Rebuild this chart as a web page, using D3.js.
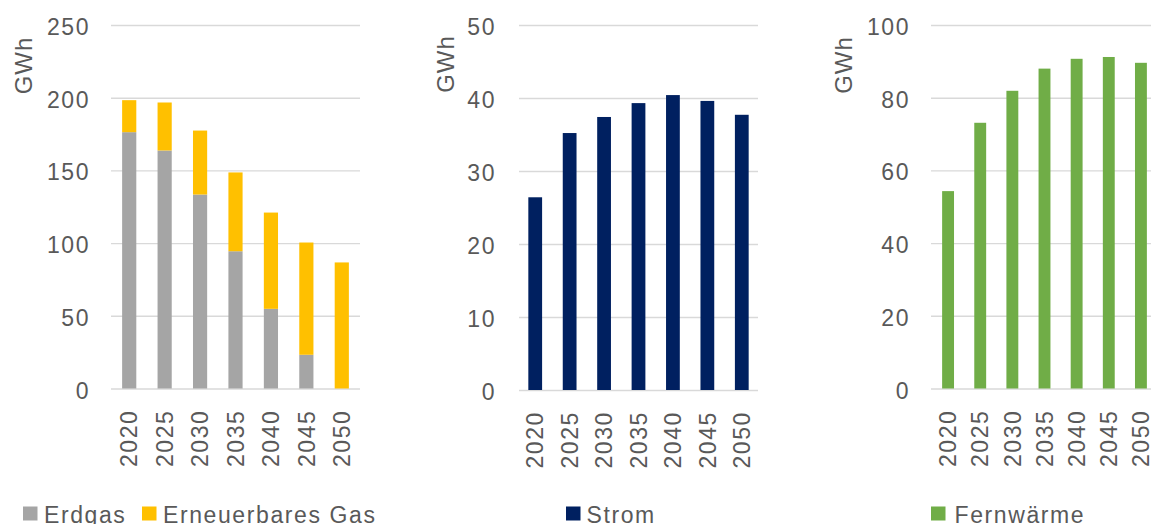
<!DOCTYPE html>
<html>
<head>
<meta charset="utf-8">
<script src="https://cdn.jsdelivr.net/npm/d3@7/dist/d3.min.js"></script>
<style>
  html, body { margin: 0; padding: 0; background: #ffffff; }
  svg { display: block; }
  text { font-family: "Liberation Sans", Arial, sans-serif; fill: #595959; }
</style>
</head>
<body>
<svg id="chart" width="1151" height="524"></svg>
<script>
// ---- data ----
const years = ["2020", "2025", "2030", "2035", "2040", "2045", "2050"];
const erdgas = [176.3, 163.7, 133.4, 94.4, 54.8, 23.2, 0];
const erneuerbaresGas = [22.0, 33.0, 44.0, 54.2, 66.2, 77.2, 86.7];
const strom = [26.4, 35.2, 37.4, 39.3, 40.4, 39.6, 37.7];
const fernwaerme = [54.3, 73.1, 81.9, 88.0, 90.7, 91.2, 89.6];
const ticksGas = [0, 50, 100, 150, 200, 250];
const ticksStrom = [0, 10, 20, 30, 40, 50];
const ticksFern = [0, 20, 40, 60, 80, 100];
const unitLabel = "GWh";

const colors = {
  Erdgas: "#a5a5a5",
  "Erneuerbares Gas": "#ffc000",
  Strom: "#002060",
  "Fernwärme": "#70ad47"
};

const svg = d3.select("#chart");
const FS = 23, LS = 1.6;

function panel(cfg) {
  const g = svg.append("g");
  const y = d3.scaleLinear().domain([0, cfg.max]).range([cfg.y0, cfg.y1]);
  const x = d3.scaleBand().domain(years).range([cfg.x0, cfg.x1])
    .paddingInner(cfg.pad).paddingOuter(cfg.pad / 2);

  // y axis with gridlines
  const ya = g.append("g").attr("transform", `translate(${cfg.gx0},0)`)
    .call(d3.axisLeft(y).tickValues(cfg.ticks).tickSize(-(cfg.gx1 - cfg.gx0))
      .tickPadding(cfg.gx0 - cfg.labelEnd - LS));
  ya.select(".domain").remove();
  ya.selectAll(".tick line").attr("stroke", "#d9d9d9").attr("stroke-width", 1.4);
  ya.selectAll(".tick text").attr("font-size", FS).attr("letter-spacing", LS)
    .attr("fill", "#595959").attr("dy", null).attr("y", 9.5)
    .style("font-family", '"Liberation Sans", Arial, sans-serif');

  // bars
  let base = years.map(() => 0);
  cfg.series.forEach(s => {
    const b = base.slice();
    g.append("g").selectAll("rect").data(s.values).join("rect")
      .attr("x", (d, i) => x(years[i]))
      .attr("width", x.bandwidth())
      .attr("y", (d, i) => y(b[i] + d))
      .attr("height", (d, i) => y(b[i]) - y(b[i] + d))
      .attr("fill", colors[s.name]);
    base = base.map((v, i) => v + s.values[i]);
  });

  // x axis labels (rotated)
  const xa = g.append("g").attr("transform", `translate(0,${cfg.y0})`)
    .call(d3.axisBottom(x).tickSize(0));
  xa.select(".domain").remove();
  xa.selectAll(".tick text")
    .attr("transform", "rotate(-90)")
    .attr("text-anchor", "end")
    .attr("x", -21)
    .attr("y", 0)
    .attr("dy", "0.36em")
    .attr("font-size", FS).attr("letter-spacing", LS)
    .attr("fill", "#595959")
    .style("font-family", '"Liberation Sans", Arial, sans-serif');

  // unit label
  g.append("text")
    .attr("transform", `translate(${cfg.unitX},${cfg.unitY}) rotate(-90)`)
    .attr("text-anchor", "middle")
    .attr("font-size", 24).attr("letter-spacing", 1)
    .text(unitLabel);

  // legend
  let lx = cfg.legendX;
  cfg.legend.forEach(l => {
    g.append("rect").attr("x", l.sx).attr("y", 506.5).attr("width", 14.5).attr("height", 14)
      .attr("fill", colors[l.name]);
    g.append("text").attr("x", l.tx).attr("y", 522.5)
      .attr("font-size", FS).attr("letter-spacing", LS).text(l.name);
  });
}

panel({
  max: 250, ticks: ticksGas, y0: 388.5, y1: 25,
  x0: 111.5, x1: 359.5, pad: 0.6, gx0: 111, gx1: 360, labelEnd: 88.5,
  unitX: 31.5, unitY: 65.5,
  series: [{ name: "Erdgas", values: erdgas }, { name: "Erneuerbares Gas", values: erneuerbaresGas }],
  legend: [{ name: "Erdgas", sx: 23, tx: 44 }, { name: "Erneuerbares Gas", sx: 142, tx: 163 }]
});

panel({
  max: 50, ticks: ticksStrom, y0: 390, y1: 25,
  x0: 518, x1: 759, pad: 0.6, gx0: 519, gx1: 758, labelEnd: 494.5,
  unitX: 454, unitY: 64,
  series: [{ name: "Strom", values: strom }],
  legend: [{ name: "Strom", sx: 566, tx: 586.5 }]
});

panel({
  max: 100, ticks: ticksFern, y0: 388.5, y1: 25,
  x0: 932, x1: 1157, pad: 0.63, gx0: 931, gx1: 1151, labelEnd: 908.5,
  unitX: 852, unitY: 65,
  series: [{ name: "Fernwärme", values: fernwaerme }],
  legend: [{ name: "Fernwärme", sx: 931, tx: 954.5 }]
});
</script>
</body>
</html>
